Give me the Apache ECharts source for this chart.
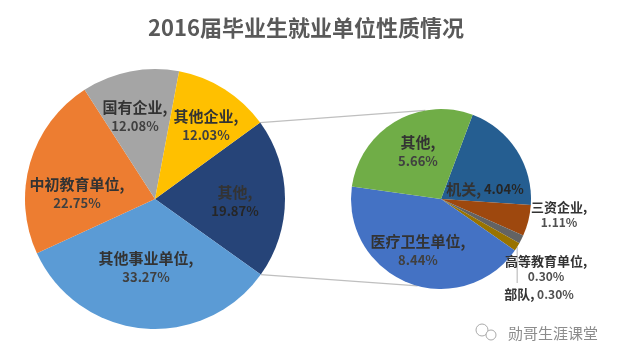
<!DOCTYPE html>
<html>
<head>
<meta charset="utf-8">
<style>
	html, body {margin: 0; padding: 0; background: #fff;}
	#chart {width: 617px; height: 360px;}
</style>
<script src="https://cdn.jsdelivr.net/npm/echarts@6/dist/echarts.min.js"></script>
</head>
<body>
<div id="chart"></div>
<script>
var titleText = '2016届毕业生就业单位性质情况';
var watermarkText = '勋哥生涯课堂';

// main pie, clockwise from the slice that is broken out
var mainNames = ['其他', '其他事业单位', '中初教育单位', '国有企业', '其他企业'];
var mainValues = [19.87, 33.27, 22.75, 12.08, 12.03];
var mainColors = ['#264478', '#5B9BD5', '#ED7D31', '#A5A5A5', '#FFC000'];

// breakdown of the "其他" slice
var subNames = ['机关', '三资企业', '高等教育单位', '部队', '医疗卫生单位', '其他'];
var subValues = [4.04, 1.11, 0.30, 0.30, 8.44, 5.66];
var subColors = ['#255E91', '#9E480E', '#636363', '#997300', '#4472C4', '#70AD47'];

var mainCenter = [155, 199], mainRadius = 130, mainStart = 36;
var subCenter = [441, 199], subRadius = 90, subStart = 69.4;

// label centres in page pixels
var mainLabelPos = [[235, 202], [146, 268], [77, 194], [135, 117], [206, 126]];
var subLabelPos = [[485, 189], [559, 215], [546, 269], [539, 294], [418, 251], [418, 152]];
var subLabelSize = [15, 13, 13, 13, 15, 15];
var oneLine = ['机关', '部队'];

function pieData(names, values, colors){
	var data = new Array();
	for (var i=0; i<names.length; i++){
		data.push({name: names[i], value: values[i], itemStyle: {color: colors[i]}});
	}
	return data;
}

function labelText(name, value, size, onDark){
	var pct = value.toFixed(2)+'%';
	var gap = oneLine.indexOf(name) >= 0 ? ' ' : '\n';
	var valueStyle = onDark ? 'd13' : 'v'+(size == 15 ? 13 : 12);
	return '{n'+size+'|'+name+',}'+gap+'{'+valueStyle+'|'+pct+'}';
}

// point on a pie's rim, angle in degrees clockwise from 12 o'clock
function rim(center, radius, deg){
	var rad = deg*Math.PI/180;
	return [center[0]+radius*Math.sin(rad), center[1]-radius*Math.cos(rad)];
}

function sum(list){
	var total = 0;
	for (var i=0; i<list.length; i++){ total += list[i]; }
	return total;
}

var mainBreakEnd = 90-mainStart;
var mainBreakStart = mainBreakEnd+mainValues[0]/sum(mainValues)*360;
var subStartDeg = 90-subStart;
var goldMid = subStartDeg+(sum(subValues.slice(0, 3))+subValues[3]/2)/sum(subValues)*360;
var goldEdge = rim(subCenter, subRadius, goldMid);

function grayLine(from, to){
	return {
		type: 'line', silent: true, z: 1,
		shape: {x1: from[0], y1: from[1], x2: to[0], y2: to[1]},
		style: {stroke: '#BFBFBF', lineWidth: 1.2}
	};
}

var richStyles = {
	n15: {fontSize: 15, fontWeight: 'bold', lineHeight: 19, color: '#333'},
	n13: {fontSize: 13, fontWeight: 'bold', lineHeight: 15, color: '#333'},
	v13: {fontSize: 13, fontWeight: 'bold', lineHeight: 19, color: '#404040'},
	v12: {fontSize: 12, fontWeight: 'bold', lineHeight: 15, color: '#505050'},
	d13: {fontSize: 13, fontWeight: 'bold', lineHeight: 19, color: '#262626'}
};

var myChart = echarts.init(document.getElementById('chart'), null, {renderer: 'canvas'});
var option = {
	animation: false,
	backgroundColor: '#fff',
	textStyle: {fontFamily: '"Noto Sans CJK SC", "Noto Sans", sans-serif'},
	title: {
		text: titleText, left: 143, top: 12,
		textStyle: {fontSize: 22, fontWeight: 'bold', color: '#595959', fontFamily: '"Noto Sans CJK SC", sans-serif'}
	},
	graphic: [
		grayLine(rim(mainCenter, mainRadius, mainBreakEnd), rim(subCenter, subRadius, -10)),
		grayLine(rim(mainCenter, mainRadius, mainBreakStart), rim(subCenter, subRadius, 195)),
		grayLine(goldEdge, [goldEdge[0], 283]),
		// watermark
		{type: 'circle', silent: true, shape: {cx: 482, cy: 330, r: 6}, style: {fill: 'none', stroke: '#aaa', lineWidth: 1}},
		{type: 'circle', silent: true, shape: {cx: 491, cy: 335, r: 5}, style: {fill: '#fff', stroke: '#aaa', lineWidth: 1}},
		{
			type: 'text', silent: true, x: 508, y: 333,
			style: {text: watermarkText, fontSize: 15, fill: '#8c8c8c', verticalAlign: 'middle', fontFamily: '"Noto Sans CJK SC", sans-serif'}
		}
	],
	series: [
		{
			name: 'main', type: 'pie', z: 2,
			center: mainCenter, radius: mainRadius, startAngle: mainStart, clockwise: true,
			avoidLabelOverlap: false,
			data: pieData(mainNames, mainValues, mainColors),
			label: {
				show: true, position: 'inside', rich: richStyles, align: 'center',
				formatter: function(params){
					return labelText(params.name, params.value, 15, params.name == '其他');
				}
			},
			labelLine: {show: false},
			labelLayout: function(params){
				var p = mainLabelPos[params.dataIndex];
				return {x: p[0], y: p[1], align: 'center', verticalAlign: 'middle'};
			}
		},
		{
			name: 'sub', type: 'pie', z: 2,
			center: subCenter, radius: subRadius, startAngle: subStart, clockwise: true,
			avoidLabelOverlap: false,
			data: pieData(subNames, subValues, subColors),
			label: {
				show: true, position: 'inside', rich: richStyles, align: 'center',
				formatter: function(params){
					return labelText(params.name, params.value, subLabelSize[params.dataIndex], params.name == '机关');
				}
			},
			labelLine: {show: false},
			labelLayout: function(params){
				var p = subLabelPos[params.dataIndex];
				return {x: p[0], y: p[1], align: 'center', verticalAlign: 'middle'};
			}
		}
	]
};
myChart.setOption(option);
</script>
</body>
</html>
